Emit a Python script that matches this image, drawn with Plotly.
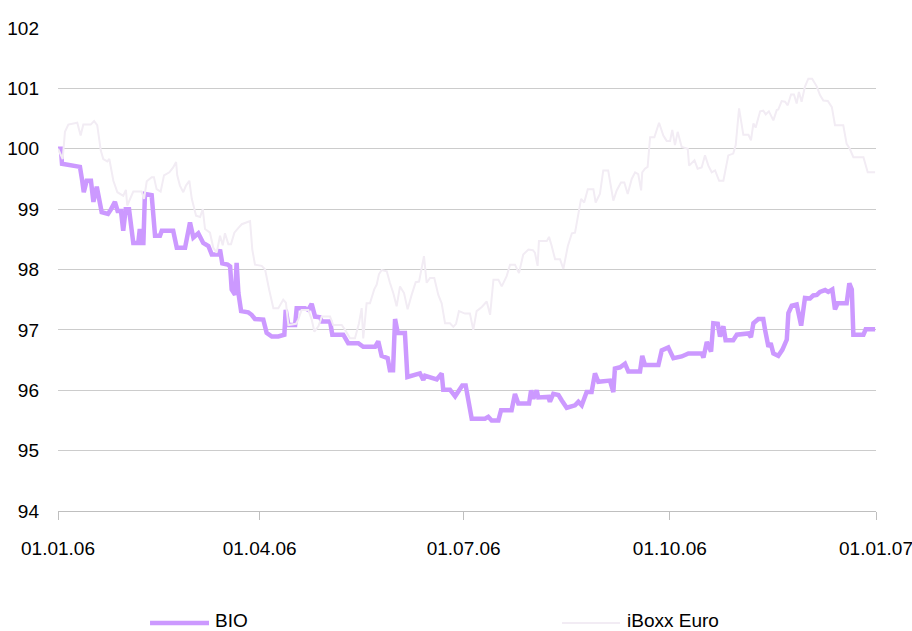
import pandas as pd
import plotly.graph_objects as go

START = pd.Timestamp("2006-01-01")

# BIO: day offset from 01.01.06 and index value
bio_day = [
    0, 1.3, 1.8, 8.3, 9.8, 10.8, 11.5, 12.8, 14.7, 15.8,
    17.3, 19.5, 22.3, 23.7, 25.4, 26.6, 28.1, 29.1, 30.2, 31.7,
    33.6, 35.8, 36.5, 37.0, 38.1, 38.8, 41.8, 43.3, 45.5, 46.3,
    51.4, 53.0, 56.7, 58.9, 60.4, 62.6, 64.8, 67.1, 68.6, 71.3,
    72.3, 73.3, 75.7, 76.8, 77.5, 79.0, 79.7, 80.5, 81.7, 84.9,
    86.4, 87.9, 91.6, 93.1, 95.4, 98.3, 101.0, 101.6, 102.8, 105.8,
    106.5, 110.2, 111.7, 113.2, 114.7, 116.9, 117.7, 121.4, 122.4, 127.3,
    128.8, 129.5, 134.0, 136.2, 141.5, 142.9, 144.4, 147.1, 148.1, 149.5,
    150.4, 151.6, 154.8, 155.9, 161.5, 163.0, 163.8, 169.0, 171.2, 171.9,
    174.9, 177.2, 180.4, 181.9, 184.6, 190.5, 192.0, 193.5, 196.5, 197.7,
    202.4, 203.9, 205.4, 210.2, 211.1, 212.1, 213.6, 214.3, 218.8, 219.5,
    221.0, 223.3, 224.8, 227.0, 230.7, 232.2, 233.7, 235.9, 238.1, 239.6,
    241.1, 246.3, 247.8, 248.5, 250.8, 253.0, 254.5, 259.7, 260.7, 261.9,
    267.9, 269.4, 272.3, 274.6, 278.3, 281.3, 287.2, 288.0, 289.5, 291.4,
    292.4, 294.4, 295.4, 296.9, 297.9, 301.3, 302.9, 305.8, 308.1, 309.2,
    310.3, 312.5, 314.7, 315.5, 317.0, 318.0, 319.2, 321.4, 323.2, 325.2,
    325.9, 327.4, 329.6, 331.6, 333.3, 335.6, 337.0, 338.6, 340.0, 342.3,
    343.7, 345.5, 346.7, 347.9, 351.9, 353.1, 354.2, 354.9, 359.4, 360.4,
    364.6,
]
bio_val = [
    100.00, 100.00, 99.75, 99.72, 99.70, 99.47, 99.28, 99.47, 99.47, 99.12,
    99.37, 98.95, 98.92, 99.00, 99.12, 98.97, 98.97, 98.64, 99.00, 99.00,
    98.44, 98.44, 98.67, 98.44, 98.44, 99.25, 99.23, 98.56, 98.56, 98.64,
    98.64, 98.36, 98.36, 98.78, 98.53, 98.60, 98.44, 98.39, 98.25, 98.25,
    98.33, 98.10, 98.08, 98.05, 97.67, 97.58, 98.11, 97.61, 97.31, 97.29,
    97.25, 97.18, 97.17, 96.95, 96.89, 96.89, 96.92, 97.33, 97.08, 97.08,
    97.36, 97.36, 97.33, 97.43, 97.22, 97.21, 97.14, 97.14, 96.92, 96.92,
    96.83, 96.78, 96.78, 96.72, 96.72, 96.81, 96.57, 96.53, 96.33, 96.33,
    97.18, 96.95, 96.95, 96.22, 96.28, 96.17, 96.24, 96.18, 96.28, 96.01,
    96.01, 95.90, 96.08, 96.08, 95.53, 95.53, 95.56, 95.50, 95.50, 95.67,
    95.67, 95.94, 95.78, 95.78, 96.00, 95.86, 96.00, 95.88, 95.89, 95.81,
    95.94, 95.92, 95.83, 95.71, 95.75, 95.81, 95.75, 95.97, 95.97, 96.28,
    96.14, 96.16, 95.97, 96.36, 96.38, 96.44, 96.31, 96.31, 96.57, 96.42,
    96.42, 96.66, 96.71, 96.53, 96.56, 96.61, 96.61, 96.54, 96.80, 96.64,
    97.11, 97.10, 96.89, 97.06, 96.83, 96.83, 96.92, 96.94, 96.94, 96.88,
    97.11, 97.18, 97.18, 97.00, 96.72, 96.78, 96.61, 96.57, 96.67, 96.84,
    97.28, 97.40, 97.42, 97.07, 97.53, 97.52, 97.57, 97.58, 97.63, 97.66,
    97.63, 97.67, 97.34, 97.44, 97.44, 97.77, 97.67, 96.92, 96.92, 97.01,
    97.01,
]

# iBoxx Euro: day offset from 01.01.06 and index value
iboxx_day = [
    0, 2.1, 3.1, 4.6, 8.6, 10.1, 11.3, 14.6, 16.1, 17.5,
    19.1, 20.2, 22.0, 22.9, 24.7, 26.5, 29.1, 30.3, 30.9, 32.1,
    33.6, 37.3, 38.4, 39.6, 41.8, 42.8, 44.0, 45.8, 47.3, 49.7,
    51.4, 52.7, 53.2, 54.4, 55.9, 57.1, 58.6, 59.7, 61.6, 63.4,
    64.6, 65.6, 67.8, 69.3, 70.8, 72.3, 73.5, 74.5, 76.0, 77.2,
    78.7, 80.5, 82.0, 84.9, 85.7, 86.7, 87.9, 90.9, 92.4, 94.2,
    96.1, 98.3, 100.5, 101.7, 102.8, 106.2, 107.2, 108.7, 111.7, 113.2,
    114.4, 116.2, 117.7, 121.4, 122.8, 126.6, 128.1, 130.3, 132.5, 134.3,
    135.5, 136.2, 137.7, 139.2, 141.1, 142.2, 143.2, 144.4, 146.7, 148.1,
    149.6, 151.1, 152.6, 154.4, 156.0, 157.8, 159.6, 161.1, 162.3, 163.3,
    164.5, 166.0, 167.9, 169.7, 171.2, 172.7, 174.9, 176.4, 177.6, 178.9,
    181.6, 183.8, 185.3, 186.8, 189.1, 191.3, 192.8, 194.3, 196.5, 198.0,
    200.2, 201.7, 203.9, 205.7, 207.6, 209.9, 211.9, 212.8, 214.0, 214.6,
    218.1, 219.1, 220.3, 221.8, 224.0, 225.5, 227.5, 229.3, 230.7, 232.2,
    233.4, 234.8, 236.4, 238.9, 239.9, 241.8, 243.3, 245.5, 247.8, 249.3,
    251.2, 252.7, 254.2, 256.0, 257.5, 258.9, 260.2, 260.7, 261.9, 263.1,
    264.2, 266.1, 268.2, 270.1, 271.6, 273.1, 274.1, 275.3, 276.5, 278.3,
    281.0, 281.6, 284.0, 285.4, 287.2, 288.7, 290.2, 291.7, 293.2, 295.0,
    296.9, 299.1, 301.3, 302.4, 303.9, 305.8, 308.1, 309.2, 310.3, 311.3,
    313.3, 314.7, 315.8, 317.2, 319.2, 320.7, 321.4, 322.9, 324.4, 325.6,
    327.1, 328.4, 329.6, 330.6, 331.8, 333.3, 334.8, 336.5, 338.6, 340.0,
    341.5, 343.5, 345.3, 346.7, 350.4, 351.9, 353.3, 354.9, 359.4, 361.3,
    364.6,
]
iboxx_val = [
    100.00, 99.83, 100.28, 100.40, 100.43, 100.22, 100.40, 100.40, 100.46, 100.39,
    99.97, 99.83, 99.79, 99.83, 99.47, 99.28, 99.22, 99.32, 99.06, 99.17,
    99.29, 99.29, 99.17, 99.46, 99.53, 99.53, 99.33, 99.29, 99.56, 99.61,
    99.69, 99.78, 99.56, 99.39, 99.28, 99.39, 99.47, 99.17, 98.89, 98.87,
    99.00, 98.67, 98.61, 98.36, 98.28, 98.56, 98.40, 98.60, 98.42, 98.42,
    98.61, 98.69, 98.75, 98.79, 98.80, 98.33, 98.08, 98.06, 98.00, 97.67,
    97.36, 97.36, 97.50, 97.45, 97.08, 97.10, 97.17, 97.33, 97.33, 97.17,
    96.97, 97.06, 97.22, 97.22, 97.08, 97.08, 97.00, 96.86, 96.86, 97.11,
    97.36, 96.86, 97.44, 97.44, 97.67, 97.75, 97.92, 97.99, 97.97, 97.78,
    97.61, 97.39, 97.72, 97.61, 97.34, 97.58, 97.79, 97.80, 98.06, 98.22,
    97.78, 97.86, 97.86, 97.58, 97.44, 97.11, 97.11, 97.05, 97.10, 97.31,
    97.27, 97.27, 97.00, 97.31, 97.38, 97.47, 97.25, 97.83, 97.83, 97.72,
    97.89, 98.08, 98.08, 97.94, 98.25, 98.33, 98.32, 98.28, 98.06, 98.47,
    98.47, 98.54, 98.39, 98.17, 98.17, 98.01, 98.39, 98.60, 98.61, 98.94,
    99.17, 99.11, 99.33, 99.33, 99.11, 99.25, 99.64, 99.64, 99.14, 99.31,
    99.44, 99.44, 99.25, 99.50, 99.61, 99.58, 99.31, 99.61, 99.67, 99.70,
    100.19, 100.19, 100.43, 100.22, 100.13, 100.13, 100.31, 100.06, 100.28, 100.03,
    100.00, 99.72, 99.81, 99.67, 99.69, 99.89, 99.72, 99.61, 99.64, 99.47,
    99.47, 99.89, 99.92, 100.06, 100.67, 100.23, 100.23, 100.14, 100.42, 100.35,
    100.62, 100.63, 100.57, 100.62, 100.47, 100.64, 100.65, 100.79, 100.78, 100.72,
    100.90, 100.90, 100.75, 100.94, 100.78, 101.03, 101.16, 101.16, 101.03, 100.89,
    100.80, 100.79, 100.69, 100.39, 100.39, 100.08, 100.00, 99.86, 99.86, 99.61,
    99.61,
]

tick_dates = ["2006-01-01", "2006-04-01", "2006-07-01", "2006-10-01", "2007-01-01"]
tick_labels = ["01.01.06", "01.04.06", "01.07.06", "01.10.06", "01.01.07"]
y_ticks = [94, 95, 96, 97, 98, 99, 100, 101, 102]
series_names = ["BIO", "iBoxx Euro"]

assert len(bio_day) == len(bio_val)
assert len(iboxx_day) == len(iboxx_val)

BIO_COLOR = "#cc99ff"
IBOXX_COLOR = "#f2ecf4"
FONT = "Liberation Sans, Arial, sans-serif"
FS = 19

def to_dates(days):
    return START + pd.to_timedelta(pd.Series(days, dtype=float), unit="D")

fig = go.Figure()
fig.add_trace(go.Scatter(x=to_dates(bio_day), y=bio_val, mode="lines",
                         name=series_names[0],
                         line=dict(color=BIO_COLOR, width=4.5), showlegend=False))
fig.add_trace(go.Scatter(x=to_dates(iboxx_day), y=iboxx_val, mode="lines",
                         name=series_names[1],
                         line=dict(color=IBOXX_COLOR, width=2), showlegend=False))

# custom legend (long sample lines as in the original)
legend_items = [
    (series_names[0], BIO_COLOR, 4.5, 0.1125, 0.1846, 0.1895),
    (series_names[1], IBOXX_COLOR, 2, 0.6161, 0.6870, 0.6930),
]
for name, col, w, x0, x1, xt in legend_items:
    fig.add_shape(type="line", xref="paper", yref="paper", x0=x0, x1=x1,
                  y0=-0.232, y1=-0.232, line=dict(color=col, width=w))
    fig.add_annotation(xref="paper", yref="paper", x=xt, y=-0.227, text=name,
                       showarrow=False, xanchor="left", yanchor="middle",
                       font=dict(family=FONT, size=FS, color="#000000"))

fig.update_layout(
    width=912, height=631,
    margin=dict(l=58, r=36, t=28, b=120, autoexpand=False),
    paper_bgcolor="white", plot_bgcolor="white",
    font=dict(family=FONT, size=FS, color="#000000"),
    showlegend=False,
)
fig.update_xaxes(
    type="date", automargin=False,
    range=["2006-01-01", "2007-01-01"],
    tickvals=tick_dates, ticktext=tick_labels,
    ticklabeloverflow="allow",
    showgrid=False, zeroline=False,
    showline=True, linecolor="#bfbfbf", linewidth=1,
    ticks="outside", ticklen=8, tickcolor="#bfbfbf", tickwidth=1,
    ticklabelstandoff=12,
    tickfont=dict(family=FONT, size=FS, color="#000000"),
)
fig.update_yaxes(
    automargin=False,
    range=[94, 102], tickvals=y_ticks,
    showgrid=True, gridcolor="#cccccc", gridwidth=1,
    zeroline=False, showline=False, ticks="",
    ticklabelstandoff=18,
    ticklabeloverflow="allow",
    tickfont=dict(family=FONT, size=FS, color="#000000"),
)

fig.write_html(
    "out.html",
    config={"displayModeBar": False},
    post_script="document.body.style.margin='0px';document.body.style.overflow='hidden';",
)
